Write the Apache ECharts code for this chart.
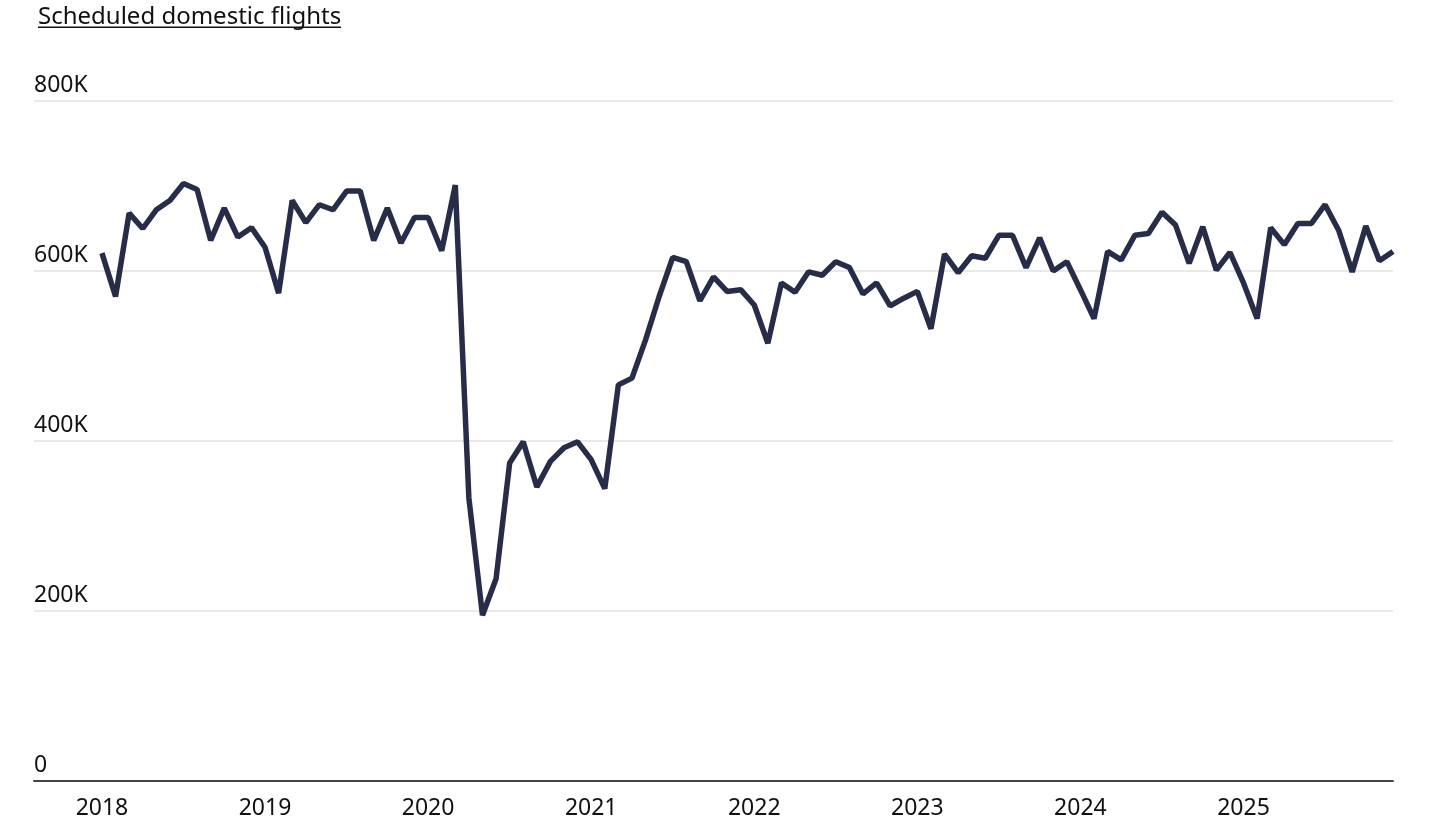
<!DOCTYPE html>
<html>
<head>
<meta charset="utf-8">
<title>Scheduled domestic flights</title>
<script src="https://cdn.jsdelivr.net/npm/echarts@6/dist/echarts.min.js"></script>
<style>
  html, body { margin: 0; padding: 0; background: #fff; }
  #chart { width: 1450px; height: 816px; }
</style>
</head>
<body>
<div id="chart"></div>
<script>
// monthly scheduled domestic flights, Jan 2018 .. Dec 2025 (thousands)
const flights = [
  // 2018
  621, 570, 668, 650, 672, 683, 703, 696, 636, 674, 640, 651,
  // 2019
  628, 574, 683, 657, 678, 672, 694, 694, 636, 674, 633, 663,
  // 2020
  663, 624, 701, 333, 195, 238, 374, 399, 346, 376, 392, 399,
  // 2021
  378, 344, 466, 474, 519, 570, 616, 611, 565, 593, 576, 578,
  // 2022
  560, 515, 586, 575, 599, 595, 611, 604, 573, 586, 559, 568,
  // 2023
  576, 532, 620, 598, 618, 615, 642, 642, 604, 639, 600, 611,
  // 2024
  578, 544, 623, 613, 642, 644, 669, 654, 609, 652, 601, 622,
  // 2025
  586, 544, 651, 631, 656, 656, 678, 648, 599, 653, 612, 623
];
const years = ['2018', '2019', '2020', '2021', '2022', '2023', '2024', '2025'];
const yTicks = [0, 200, 400, 600, 800];

const points = flights.map((v, i) => [i, v * 1000]);
const yearPos = years.map((y, i) => i * 12);

var chart = echarts.init(document.getElementById('chart'));
var FONT = '"Noto Sans", "Open Sans", sans-serif';

var option = {
  animation: false,
  backgroundColor: '#fff',
  title: {
    text: 'Scheduled domestic flights',
    left: 38,
    top: 5,
    padding: 0,
    textStyle: { fontFamily: FONT, fontSize: 24, fontWeight: 'normal', color: '#111' }
  },
  graphic: [
    // underline of the title
    { type: 'rect', left: 38, top: 26.5, shape: { width: 303, height: 1.5 }, style: { fill: '#111' } }
  ],
  grid: { left: 34, right: 57, top: 101, bottom: 35, outerBoundsMode: 'none' },
  xAxis: {
    type: 'value',
    min: -5,
    max: 95,
    splitLine: { show: false },
    axisLine: { show: true, lineStyle: { color: '#444', width: 2 } },
    axisTick: { show: false },
    axisLabel: {
      customValues: yearPos,
      formatter: (v) => years[Math.round(v / 12)] || '',
      fontFamily: FONT, fontSize: 23, color: '#111', margin: 16
    }
  },
  yAxis: {
    type: 'value',
    min: 0,
    max: yTicks[yTicks.length - 1] * 1000,
    interval: 200000,
    axisLine: { show: false },
    axisTick: { show: false },
    splitLine: { lineStyle: { color: '#e2e2e2', width: 1.5 } },
    axisLabel: {
      inside: true,
      margin: 0,
      align: 'left',
      verticalAlign: 'bottom',
      padding: [0, 0, 4, 0],
      fontFamily: FONT, fontSize: 23, color: '#111',
      formatter: (v) => v === 0 ? '0' : (v / 1000) + 'K'
    }
  },
  series: [{
    type: 'line',
    data: points,
    showSymbol: false,
    symbol: 'none',
    lineStyle: { color: '#272c48', width: 5.5, join: 'bevel', cap: 'butt' },
    z: 5
  }]
};

chart.setOption(option);
window.addEventListener('resize', function () { chart.resize(); });
</script>
</body>
</html>
